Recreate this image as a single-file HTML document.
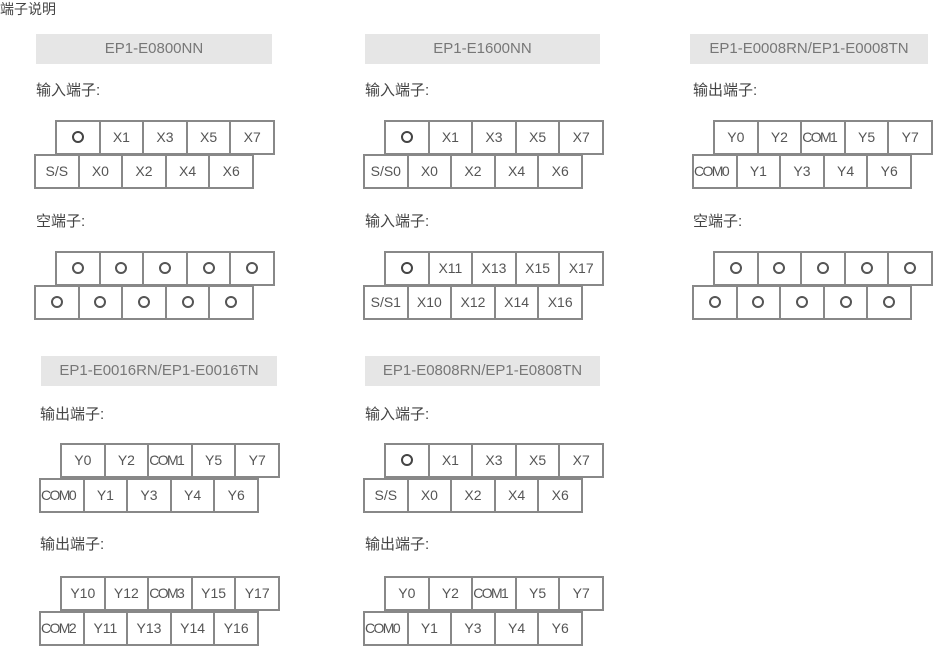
<!DOCTYPE html>
<html><head><meta charset="utf-8"><style>
body{margin:0;width:934px;height:648px;background:#fff;position:relative;overflow:hidden;font-family:"Liberation Sans","Noto Sans CJK SC",sans-serif;color:#555}
.t{position:absolute;font-size:15px;color:#444;line-height:18px}
.h{position:absolute;height:30px;background:#e6e6e6;color:#777;font-size:15px;line-height:30px;text-align:center;white-space:nowrap}
.r{position:absolute;height:35px;display:flex;box-sizing:border-box;border-left:2px solid #888}
.r div{width:43.6px;height:35px;box-sizing:border-box;border:2px solid #888;border-left:none;text-align:center;line-height:31px;font-size:14px;color:#555;white-space:nowrap;overflow:hidden}
.r div.c{font-size:14px;letter-spacing:-1.6px;text-align:left;padding-left:0}
.o{display:inline-block;width:8px;height:8px;border:2px solid #555;border-radius:50%;vertical-align:middle;margin-top:-3px}
.o.b{border-width:2.5px;border-color:#444}
</style></head><body>
<div class="t" style="left:0;top:0;font-size:14px">端子说明</div>

<!-- col1 -->
<div class="h" style="left:36px;top:34px;width:236px">EP1-E0800NN</div>
<div class="t" style="left:36px;top:82px">输入端子:</div>
<div class="r" style="left:55px;top:120px"><div><span class="o b"></span></div><div>X1</div><div>X3</div><div>X5</div><div>X7</div></div>
<div class="r" style="left:34px;top:154px"><div>S/S</div><div>X0</div><div>X2</div><div>X4</div><div>X6</div></div>
<div class="t" style="left:36px;top:213px">空端子:</div>
<div class="r" style="left:55px;top:251px"><div><span class="o"></span></div><div><span class="o"></span></div><div><span class="o"></span></div><div><span class="o"></span></div><div><span class="o"></span></div></div>
<div class="r" style="left:34px;top:285px"><div><span class="o"></span></div><div><span class="o"></span></div><div><span class="o"></span></div><div><span class="o"></span></div><div><span class="o"></span></div></div>

<div class="h" style="left:41px;top:356px;width:236px">EP1-E0016RN/EP1-E0016TN</div>
<div class="t" style="left:40px;top:406px">输出端子:</div>
<div class="r" style="left:60px;top:443px"><div>Y0</div><div>Y2</div><div class="c">COM1</div><div>Y5</div><div>Y7</div></div>
<div class="r" style="left:39px;top:478px"><div class="c">COM0</div><div>Y1</div><div>Y3</div><div>Y4</div><div>Y6</div></div>
<div class="t" style="left:40px;top:536px">输出端子:</div>
<div class="r" style="left:60px;top:576px"><div>Y10</div><div>Y12</div><div class="c">COM3</div><div>Y15</div><div>Y17</div></div>
<div class="r" style="left:39px;top:611px"><div class="c">COM2</div><div>Y11</div><div>Y13</div><div>Y14</div><div>Y16</div></div>

<!-- col2 -->
<div class="h" style="left:365px;top:34px;width:235px">EP1-E1600NN</div>
<div class="t" style="left:365px;top:82px">输入端子:</div>
<div class="r" style="left:384px;top:120px"><div><span class="o b"></span></div><div>X1</div><div>X3</div><div>X5</div><div>X7</div></div>
<div class="r" style="left:363px;top:154px"><div>S/S0</div><div>X0</div><div>X2</div><div>X4</div><div>X6</div></div>
<div class="t" style="left:365px;top:213px">输入端子:</div>
<div class="r" style="left:384px;top:251px"><div><span class="o b"></span></div><div>X11</div><div>X13</div><div>X15</div><div>X17</div></div>
<div class="r" style="left:363px;top:285px"><div>S/S1</div><div>X10</div><div>X12</div><div>X14</div><div>X16</div></div>

<div class="h" style="left:365px;top:356px;width:235px">EP1-E0808RN/EP1-E0808TN</div>
<div class="t" style="left:365px;top:406px">输入端子:</div>
<div class="r" style="left:384px;top:443px"><div><span class="o b"></span></div><div>X1</div><div>X3</div><div>X5</div><div>X7</div></div>
<div class="r" style="left:363px;top:478px"><div>S/S</div><div>X0</div><div>X2</div><div>X4</div><div>X6</div></div>
<div class="t" style="left:365px;top:536px">输出端子:</div>
<div class="r" style="left:384px;top:576px"><div>Y0</div><div>Y2</div><div class="c">COM1</div><div>Y5</div><div>Y7</div></div>
<div class="r" style="left:363px;top:611px"><div class="c">COM0</div><div>Y1</div><div>Y3</div><div>Y4</div><div>Y6</div></div>

<!-- col3 -->
<div class="h" style="left:690px;top:34px;width:238px">EP1-E0008RN/EP1-E0008TN</div>
<div class="t" style="left:693px;top:82px">输出端子:</div>
<div class="r" style="left:713px;top:120px"><div>Y0</div><div>Y2</div><div class="c">COM1</div><div>Y5</div><div>Y7</div></div>
<div class="r" style="left:692px;top:154px"><div class="c">COM0</div><div>Y1</div><div>Y3</div><div>Y4</div><div>Y6</div></div>
<div class="t" style="left:693px;top:213px">空端子:</div>
<div class="r" style="left:713px;top:251px"><div><span class="o"></span></div><div><span class="o"></span></div><div><span class="o"></span></div><div><span class="o"></span></div><div><span class="o"></span></div></div>
<div class="r" style="left:692px;top:285px"><div><span class="o"></span></div><div><span class="o"></span></div><div><span class="o"></span></div><div><span class="o"></span></div><div><span class="o"></span></div></div>
</body></html>
